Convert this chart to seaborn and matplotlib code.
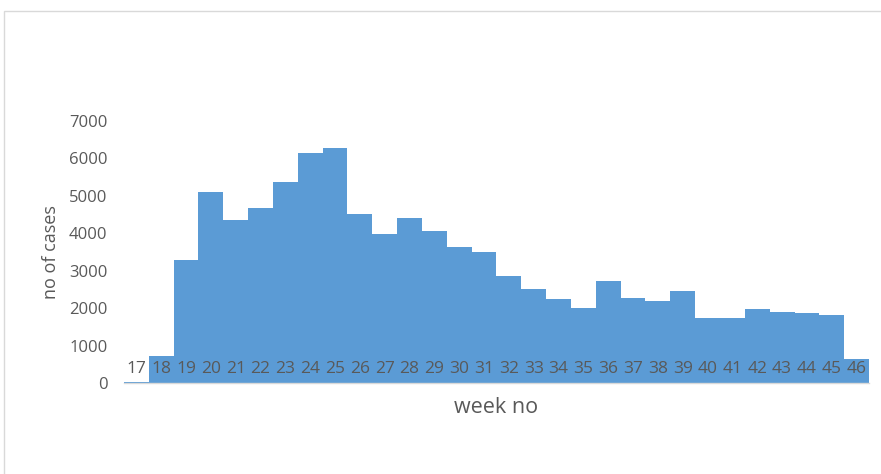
import matplotlib
matplotlib.use('Agg')
import matplotlib.pyplot as plt
import matplotlib.patches as mpatches
import pandas as pd
import seaborn as sns

sns.set_style('white')
plt.rcParams['font.family'] = ['Open Sans', 'DejaVu Sans']

# weekly case counts
weeks = [17, 18, 19, 20, 21, 22, 23, 24, 25, 26, 27, 28, 29, 30, 31,
         32, 33, 34, 35, 36, 37, 38, 39, 40, 41, 42, 43, 44, 45, 46]
cases = [20, 720, 3290, 5100, 4340, 4680, 5360, 6150, 6270, 4500,
         3990, 4400, 4070, 3630, 3490, 2850, 2510, 2230, 2010, 2730,
         2280, 2200, 2450, 1730, 1730, 1980, 1900, 1870, 1820, 640]
y_ticks = [0, 1000, 2000, 3000, 4000, 5000, 6000, 7000]

df = pd.DataFrame({'week': [str(w) for w in weeks], 'cases': cases})

fig = plt.figure(figsize=(8.81, 4.74), dpi=100)
ax = fig.add_axes([0.1407, 0.192, 0.8457, 0.553])

sns.barplot(data=df, x='week', y='cases', color='#5B9BD5', saturation=1,
            width=1.0, linewidth=0, ax=ax)
for p in ax.patches:
    p.set_zorder(0.5)
ax.set_axisbelow(False)

ax.set_xlim(-0.5, len(weeks) - 0.5)
ax.set_ylim(0, 7000)
ax.set_yticks(y_ticks)
ax.set_yticklabels([str(v) for v in y_ticks], color='#595959', fontsize=12)
ax.tick_params(axis='y', length=0, pad=12)
ax.tick_params(axis='x', length=0, pad=-16, labelsize=12.5, labelcolor='#595959')

for s in ['top', 'right', 'left']:
    ax.spines[s].set_visible(False)
ax.spines['bottom'].set_color('#D9D9D9')
ax.spines['bottom'].set_linewidth(1)

ax.set_xlabel('week no', fontsize=15.5, color='#595959', labelpad=10)
ax.set_ylabel('no of cases', fontsize=13, color='#595959', labelpad=6)

# outer chart frame
frame = mpatches.Rectangle((4 / 881, -0.1), 1.2, 1.1 - 11 / 474,
                           transform=fig.transFigure, fill=False,
                           edgecolor='#D9D9D9', linewidth=1)
fig.patches.append(frame)

fig.savefig('out.png', dpi=100)
